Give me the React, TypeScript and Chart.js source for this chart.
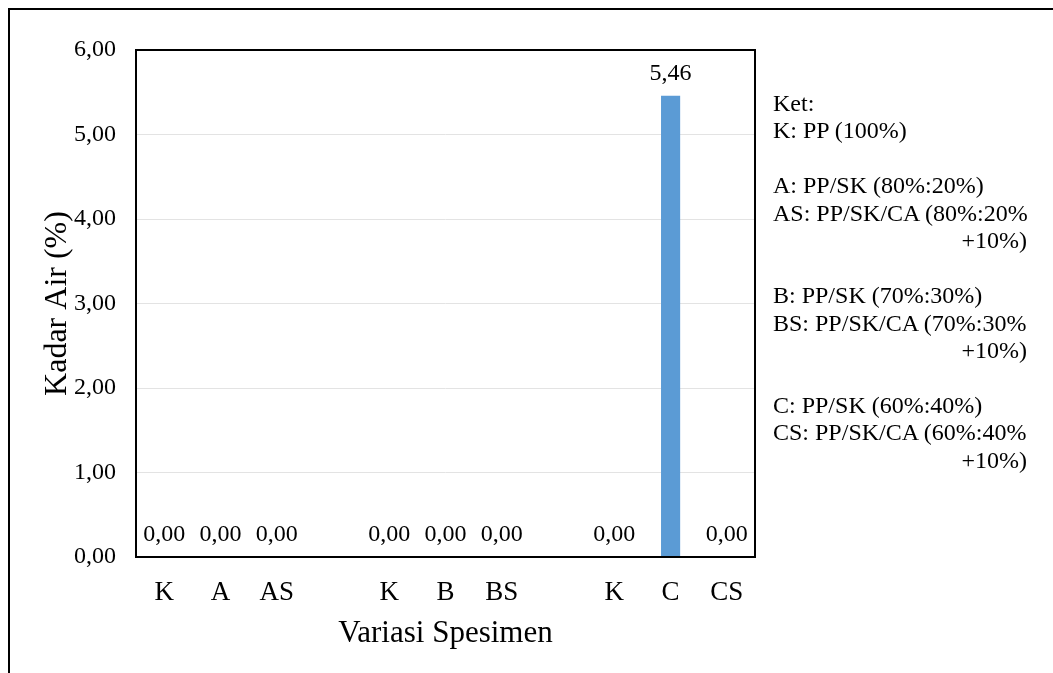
import React, { useEffect, useRef } from "react";
import { Chart, registerables } from "chart.js";

Chart.register(...registerables);

const CATEGORIES: string[] = ["K", "A", "AS", "", "K", "B", "BS", "", "K", "C", "CS"];
const KADAR_AIR: (number | null)[] = [0, 0, 0, null, 0, 0, 0, null, 0, 5.46, 0];
const Y_MIN = 0;
const Y_MAX = 6;
const Y_STEP = 1;
const Y_TITLE = "Kadar Air (%)";
const X_TITLE = "Variasi Spesimen";
const BAR_COLOR = "#5B9BD5";

const LEGEND_LINES: { text: string; right?: boolean }[] = [
  { text: "Ket:" },
  { text: "K: PP (100%)" },
  { text: "" },
  { text: "A: PP/SK (80%:20%)" },
  { text: "AS: PP/SK/CA (80%:20%" },
  { text: "+10%)", right: true },
  { text: "" },
  { text: "B: PP/SK (70%:30%)" },
  { text: "BS: PP/SK/CA (70%:30%" },
  { text: "+10%)", right: true },
  { text: "" },
  { text: "C: PP/SK (60%:40%)" },
  { text: "CS: PP/SK/CA (60%:40%" },
  { text: "+10%)", right: true },
];

const FONT = "'Liberation Serif', 'Times New Roman', Times, serif";
const fmt = (v: number) => v.toFixed(2).replace(".", ",");

const plotBorder = {
  id: "plotBorder",
  afterDatasetsDraw(chart: any) {
    const { ctx, chartArea } = chart;
    ctx.save();
    ctx.strokeStyle = "#000";
    ctx.lineWidth = 2;
    ctx.strokeRect(chartArea.left, chartArea.top, chartArea.right - chartArea.left, chartArea.bottom - chartArea.top);
    ctx.restore();
  },
};

const valueLabels = {
  id: "valueLabels",
  afterDatasetsDraw(chart: any) {
    const { ctx } = chart;
    const meta = chart.getDatasetMeta(0);
    const data = chart.data.datasets[0].data;
    ctx.save();
    ctx.fillStyle = "#000";
    ctx.font = `24px ${FONT}`;
    ctx.textAlign = "center";
    ctx.textBaseline = "alphabetic";
    meta.data.forEach((bar: any, i: number) => {
      const v = data[i];
      if (v === null || v === undefined) return;
      ctx.fillText(fmt(v), bar.x, bar.y - 16);
    });
    ctx.restore();
  },
};

export default function App() {
  const canvasRef = useRef<HTMLCanvasElement | null>(null);

  useEffect(() => {
    if (!canvasRef.current) return;
    const chart = new Chart(canvasRef.current, {
      type: "bar",
      data: {
        labels: CATEGORIES,
        datasets: [
          {
            data: KADAR_AIR as any,
            backgroundColor: BAR_COLOR,
            borderWidth: 0,
            barPercentage: 0.34,
            categoryPercentage: 1,
          },
        ],
      },
      options: {
        responsive: false,
        animation: false,
        devicePixelRatio: 1,
        layout: { padding: { top: 50, right: 298, left: 0, bottom: 0 } },
        plugins: {
          legend: { display: false },
          tooltip: { enabled: false },
        },
        scales: {
          x: {
            grid: { display: false, drawTicks: false },
            border: { display: false },
            ticks: {
              color: "#000",
              font: { family: FONT, size: 27 },
              padding: 20,
              maxRotation: 0,
              autoSkip: false,
            },
            title: {
              display: true,
              text: X_TITLE,
              color: "#000",
              font: { family: FONT, size: 31 },
              padding: { top: 0, bottom: 21 },
            },
            afterFit(scale: any) {
              scale.height = 116;
            },
          },
          y: {
            min: Y_MIN,
            max: Y_MAX,
            grid: { color: "#e3e3e3", lineWidth: 1, drawTicks: false },
            border: { display: false },
            ticks: {
              stepSize: Y_STEP,
              color: "#000",
              font: { family: FONT, size: 24 },
              padding: 20,
              callback: (v: any) => fmt(Number(v)),
            },
            title: {
              display: true,
              text: Y_TITLE,
              color: "#000",
              font: { family: FONT, size: 32 },
              padding: { top: 38, bottom: 0 },
            },
            afterFit(scale: any) {
              scale.width = 136;
            },
          },
        },
      },
      plugins: [plotBorder, valueLabels],
    });
    return () => chart.destroy();
  }, []);

  return (
    <div style={{ position: "fixed", left: 0, top: 0, width: 1053, height: 673, background: "#fff", overflow: "hidden" }}>
      <div
        style={{
          position: "absolute",
          left: 8,
          top: 8,
          width: 1060,
          height: 680,
          borderTop: "2px solid #000",
          borderLeft: "2px solid #000",
          boxSizing: "border-box",
        }}
      />
      <canvas ref={canvasRef} width={1053} height={673} style={{ position: "absolute", left: 0, top: 0, width: 1053, height: 673 }} />
      <div
        style={{
          position: "absolute",
          left: 773,
          top: 90,
          width: 254,
          fontFamily: FONT,
          fontSize: 24,
          lineHeight: "27.46px",
          color: "#000",
          whiteSpace: "pre",
        }}
      >
        {LEGEND_LINES.map((l, i) => (
          <div key={i} style={{ textAlign: l.right ? "right" : "left", height: 27.46 }}>
            {l.text}
          </div>
        ))}
      </div>
    </div>
  );
}
